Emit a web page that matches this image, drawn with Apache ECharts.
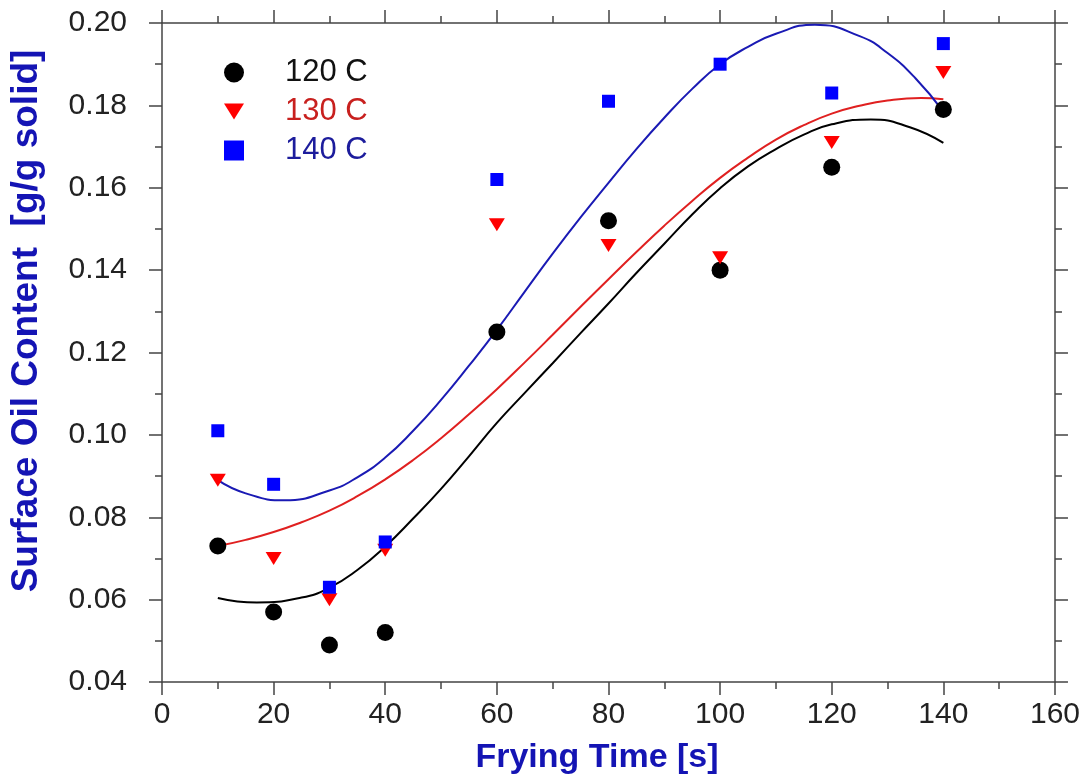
<!DOCTYPE html>
<html>
<head>
<meta charset="utf-8">
<script src="https://cdn.jsdelivr.net/npm/echarts@6/dist/echarts.min.js"></script>
<style>
  html, body { margin: 0; padding: 0; background: #fff; }
  #chart { width: 1083px; height: 782px; }
</style>
</head>
<body>
<div id="chart"></div>
<script>
// measured points (frying time in s, oil content g/g solid)
const times = [10, 20, 30, 40, 60, 80, 100, 120, 140];
const oil120 = [0.073, 0.057, 0.049, 0.052, 0.125, 0.152, 0.140, 0.165, 0.179];
const oil130 = [0.089, 0.070, 0.060, 0.072, 0.151, 0.146, 0.143, 0.171, 0.188];
const oil140 = [0.101, 0.088, 0.063, 0.074, 0.162, 0.181, 0.190, 0.183, 0.195];

// fitted curves (extra point at each turning point)
const fitTimes120 = [10, 17, 25, 30, 35, 40, 45, 50, 55, 60, 65, 70, 75,
  80, 85, 90, 95, 100, 105, 110, 115, 120, 127, 134, 140];
const fit120 = [0.0604, 0.0593, 0.0605, 0.0629, 0.0672, 0.0729, 0.0797, 0.0869,
  0.0948, 0.1029, 0.1102, 0.1174, 0.1247, 0.1319, 0.1393, 0.1464, 0.1535, 0.1599,
  0.1652, 0.1694, 0.1729, 0.1754, 0.1766, 0.1747, 0.1709];

const fitTimes130 = [10, 15, 20, 25, 30, 35, 40, 45, 50, 55, 60, 65, 70, 75,
  80, 85, 90, 95, 100, 105, 110, 115, 120, 125, 130, 136, 140];
const fit130 = [0.0730, 0.0745, 0.0764, 0.0788, 0.0816, 0.0851, 0.0892, 0.0939, 0.0992,
  0.1050, 0.1111, 0.1176, 0.1243, 0.1311, 0.1378, 0.1444, 0.1508, 0.1568, 0.1624,
  0.1673, 0.1717, 0.1752, 0.1780, 0.1799, 0.1812, 0.1818, 0.1815];

const fitTimes140 = [10, 15, 22, 30, 35, 40, 45, 50, 55, 60, 65, 70, 75,
  80, 85, 90, 95, 100, 105, 110, 117, 125, 130, 135, 140];
const fit140 = [0.0890, 0.0858, 0.0841, 0.0865, 0.0897, 0.0945, 0.1010, 0.1085,
  0.1168, 0.1255, 0.1348, 0.1440, 0.1528, 0.1612, 0.1694, 0.1770, 0.1840, 0.1900,
  0.1942, 0.1974, 0.1996, 0.1968, 0.1927, 0.1866, 0.1785];

const xTicks = [0, 160, 20];
const yTicks = [0.04, 0.20, 0.02];

const pairs = (xs, ys) => xs.map((x, i) => [x, ys[i]]);

const downTri = 'path://M0,0 L20,0 L10,16 Z';
const axisColor = '#444';

const chart = echarts.init(document.getElementById('chart'));

const xAxisBase = {
  type: 'value',
  min: xTicks[0],
  max: xTicks[1],
  interval: xTicks[2],
  splitLine: { show: false },
  axisLine: { show: true, onZero: false, lineStyle: { color: axisColor, width: 1.5 } },
  axisTick: { show: true, inside: false, length: 13, lineStyle: { color: axisColor, width: 1.5 } },
  minorTick: { show: true, splitNumber: 2, length: 7, lineStyle: { color: axisColor, width: 1.5 } },
  minorSplitLine: { show: false }
};
const yAxisBase = {
  type: 'value',
  min: yTicks[0],
  max: yTicks[1],
  interval: yTicks[2],
  splitLine: { show: false },
  axisLine: { show: true, onZero: false, lineStyle: { color: axisColor, width: 1.5 } },
  axisTick: { show: true, inside: false, length: 13, lineStyle: { color: axisColor, width: 1.5 } },
  minorTick: { show: true, splitNumber: 2, length: 7, lineStyle: { color: axisColor, width: 1.5 } },
  minorSplitLine: { show: false }
};

const fitLine = (name, data, color) => ({
  name: name,
  type: 'line',
  data: data,
  smooth: 0.5,
  showSymbol: false,
  lineStyle: { color: color, width: 2 },
  z: 2
});

chart.setOption({
  animation: false,
  backgroundColor: '#fff',
  textStyle: { fontFamily: 'Liberation Sans, Arial, sans-serif' },
  grid: { left: 162, right: 27, top: 23, bottom: 100 },
  legend: {
    orient: 'vertical',
    left: 219,
    top: 52,
    itemWidth: 20,
    itemHeight: 20,
    itemGap: 8,
    textStyle: { fontSize: 31, padding: [0, 0, 0, 36] },
    data: [
      { name: '120 C', textStyle: { color: '#111' } },
      { name: '130 C', textStyle: { color: '#c8201e' } },
      { name: '140 C', textStyle: { color: '#1c1c9c' } }
    ]
  },
  xAxis: [
    Object.assign({}, xAxisBase, {
      position: 'bottom',
      axisLabel: { show: true, margin: 18, fontSize: 30, color: '#222' }
    }),
    Object.assign({}, xAxisBase, {
      position: 'top',
      axisLabel: { show: false }
    })
  ],
  yAxis: [
    Object.assign({}, yAxisBase, {
      position: 'left',
      axisLabel: {
        show: true, margin: 35, fontSize: 30, color: '#222',
        formatter: v => v.toFixed(2)
      }
    }),
    Object.assign({}, yAxisBase, {
      position: 'right',
      axisLabel: { show: false }
    })
  ],
  graphic: [
    {
      type: 'text',
      x: 597,
      y: 758,
      style: {
        text: 'Frying Time [s]',
        font: 'bold 34px "Liberation Sans", Arial, sans-serif',
        fill: '#1414b4',
        align: 'center',
        verticalAlign: 'middle'
      }
    },
    {
      type: 'text',
      x: 27,
      y: 321,
      rotation: Math.PI / 2,
      style: {
        text: 'Surface Oil Content  [g/g solid]',
        font: 'bold 37px "Liberation Sans", Arial, sans-serif',
        fill: '#1414b4',
        align: 'center',
        verticalAlign: 'middle'
      }
    }
  ],
  series: [
    fitLine('fit 120', pairs(fitTimes120, fit120), '#000'),
    fitLine('fit 130', pairs(fitTimes130, fit130), '#e02020'),
    fitLine('fit 140', pairs(fitTimes140, fit140), '#1a1ab4'),
    {
      name: '120 C',
      type: 'scatter',
      data: pairs(times, oil120),
      symbol: 'circle',
      symbolSize: 17,
      itemStyle: { color: '#000', opacity: 1 },
      z: 3
    },
    {
      name: '130 C',
      type: 'scatter',
      data: pairs(times, oil130),
      symbol: downTri,
      symbolSize: [16, 13],
      itemStyle: { color: '#ff0000', opacity: 1 },
      z: 4
    },
    {
      name: '140 C',
      type: 'scatter',
      data: pairs(times, oil140),
      symbol: 'rect',
      symbolSize: 13,
      itemStyle: { color: '#0000ff', opacity: 1 },
      z: 5
    }
  ]
});
</script>
</body>
</html>
